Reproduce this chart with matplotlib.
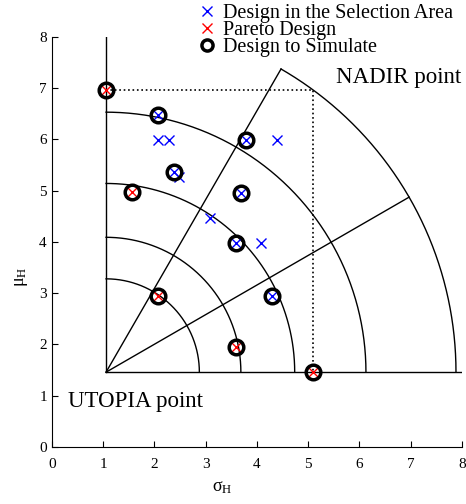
import numpy as np
import matplotlib
matplotlib.use('Agg')
import matplotlib.pyplot as plt
from matplotlib.lines import Line2D

plt.rcParams['font.family'] = ['Liberation Serif', 'DejaVu Serif']
plt.rcParams['mathtext.fontset'] = 'custom'
plt.rcParams['mathtext.rm'] = 'Liberation Serif'
plt.rcParams['mathtext.it'] = 'Liberation Serif:italic'

# 选择区域内的设计点 (蓝色 x)
sel_x = [2.08, 2.08, 2.29, 3.79, 4.39, 2.39, 2.49, 3.69, 3.09, 3.59, 4.09, 4.29]
sel_y = [6.48, 5.98, 5.98, 5.98, 5.98, 5.36, 5.26, 4.96, 4.46, 3.97, 3.97, 2.95]
# Pareto 设计点 (红色 x)
par_x = [1.06, 1.57, 2.08, 3.59, 5.09]
par_y = [6.97, 4.97, 2.95, 1.96, 1.46]
# 需要仿真的设计点 (黑圈)
sim_x = [1.06, 1.57, 2.08, 3.59, 5.09, 2.08, 3.79, 2.39, 3.69, 3.59, 4.29]
sim_y = [6.97, 4.97, 2.95, 1.96, 1.46, 6.48, 5.98, 5.36, 4.96, 3.97, 2.95]

utopia = (1.06, 1.46)
nadir = (5.09, 6.97)
arc_radii = [1.82, 2.63, 3.68, 5.07]
ray_angles = [30, 60]

fig = plt.figure(figsize=(4.66, 5.04), dpi=100)
ax = fig.add_axes([0.111, 0.113, 0.88, 0.814])

ux, uy = utopia
r_out = np.hypot(nadir[0] - ux, nadir[1] - uy)

# 极坐标网格
ax.plot([ux, ux], [uy, 8], 'k-', lw=1)
ax.plot([ux, 8], [uy, uy], 'k-', lw=1)
for r in arc_radii:
    t = np.linspace(0, np.pi / 2, 200)
    ax.plot(ux + r * np.cos(t), uy + r * np.sin(t), 'k-', lw=1)
t = np.linspace(0, np.pi / 3, 200)
ax.plot(ux + r_out * np.cos(t), uy + r_out * np.sin(t), 'k-', lw=1)
for a in ray_angles:
    a = np.deg2rad(a)
    ax.plot([ux, ux + r_out * np.cos(a)], [uy, uy + r_out * np.sin(a)], 'k-', lw=1)

# nadir 虚线
ax.plot([ux, nadir[0], nadir[0]], [nadir[1], nadir[1], uy], 'k:', lw=1.2)

ax.plot(sel_x, sel_y, 'x', color='b', ms=7, mew=1, ls='None')
ax.plot(par_x, par_y, 'x', color='r', ms=7, mew=1, ls='None')
ax.plot(sim_x, sim_y, 'o', mfc='none', mec='k', ms=10.5, mew=2.5, ls='None')

ax.text(5.55, 7.2, 'NADIR point', fontsize=16.5, va='center', ha='left')
ax.text(0.32, 0.88, 'UTOPIA point', fontsize=16.5, va='center', ha='left')

ax.set_xlim(0, 8)
ax.set_ylim(0, 8)
ax.spines['top'].set_visible(False)
ax.spines['right'].set_visible(False)
ax.tick_params(direction='in', length=4, labelsize=11)
ax.tick_params(axis='x', pad=8)
ax.set_xticks(range(9))
ax.set_yticks(range(9))
ax.set_xlabel(r'$\mathrm{\sigma_H}$', fontsize=13)
ax.set_ylabel(r'$\mathrm{\mu_H}$', fontsize=13)
ax.xaxis.set_label_coords(0.415, -0.077)
ax.yaxis.set_label_coords(-0.053, 0.415)

handles = [
    Line2D([], [], marker='x', color='b', ls='None', ms=7, mew=1),
    Line2D([], [], marker='x', color='r', ls='None', ms=7, mew=1),
    Line2D([], [], marker='o', mfc='none', mec='k', ls='None', ms=8, mew=2.5),
]
labels = ['Design in the Selection Area', 'Pareto Design', 'Design to Simulate']
fig.legend(handles, labels, loc='upper left', bbox_to_anchor=(0.41, 1.008),
           frameon=False, fontsize=14.5, handlelength=0.8, handletextpad=0.4,
           labelspacing=-0.1, borderaxespad=0)

fig.savefig('out.png', dpi=100)
